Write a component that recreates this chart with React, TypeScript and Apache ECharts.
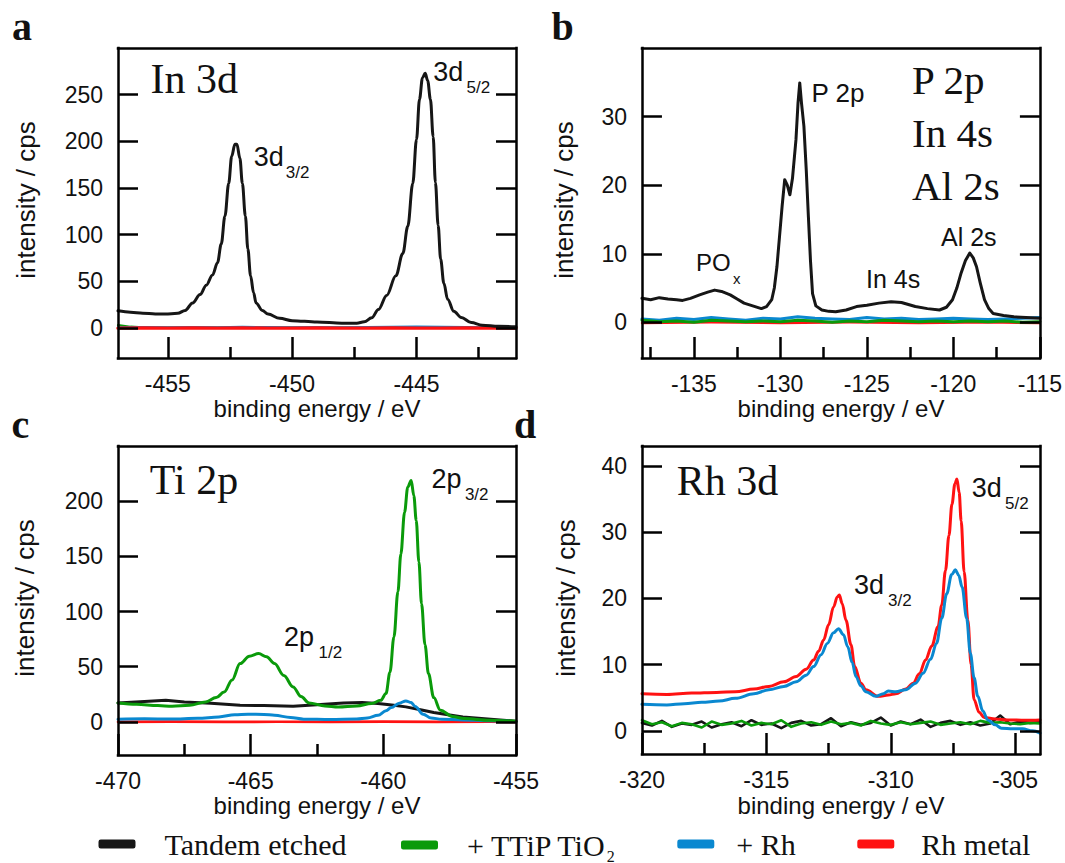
import React, { useEffect, useRef } from "react";
import * as echarts from "echarts";

type Pt = [number, number];

// ---------------- shared ----------------
const legendNames = ["Tandem etched", "+ TTiP TiO2", "+ Rh", "Rh metal"];
const seriesColors = ["#161616", "#0a9a0a", "#0a88d0", "#ff1212"];
const xTitle = "binding energy / eV";
const yTitle = "intensity / cps";

// ---------------- panel a : In 3d ----------------
const aXMajor = [-455, -450, -445];
const aXMinor = [-452.5, -447.5, -442.5];
const aYTicks = [0, 50, 100, 150, 200, 250];
const aTandem: Pt[] = [
  [-457, 18.5], [-456.5, 17], [-456, 16], [-455.5, 15.2], [-455.1, 15], [-454.6, 15.8], [-454.3, 19],
  [-454.0, 27], [-453.7, 36], [-453.45, 46], [-453.2, 57], [-453.0, 70], [-452.85, 90], [-452.7, 120],
  [-452.55, 155], [-452.43, 184], [-452.3, 197], [-452.22, 197], [-452.1, 182], [-452.0, 155],
  [-451.88, 120], [-451.78, 85], [-451.67, 56], [-451.55, 38], [-451.45, 27], [-451.2, 19], [-450.97, 15],
  [-450.5, 10.5], [-450.0, 8], [-449.0, 6.5], [-448.0, 5.3], [-447.4, 5.2], [-447.1, 6.7], [-446.8, 11],
  [-446.53, 20], [-446.2, 35], [-445.83, 56], [-445.55, 80], [-445.35, 109], [-445.15, 155], [-445.0, 202],
  [-444.88, 245], [-444.76, 268], [-444.65, 273], [-444.55, 265], [-444.44, 245], [-444.33, 205],
  [-444.24, 156], [-444.13, 110], [-444.03, 74], [-443.9, 48], [-443.75, 31], [-443.5, 18], [-443.2, 11.4],
  [-442.8, 6], [-442.36, 3.2], [-441.7, 2], [-441, 1.4],
];
const aTTiP: Pt[] = [
  [-457, 3.2], [-456.5, 1.5], [-456, 0.8], [-455, 0.6], [-454, 0.5], [-453, 0.6], [-452, 0.7], [-451, 0.5],
  [-450, 0.5], [-449, 0.4], [-448, 0.5], [-447, 0.4], [-446, 0.5], [-445, 0.6], [-444, 0.5], [-443, 0.4],
  [-442, 0.4], [-441, 0.3],
];
const aRh: Pt[] = [
  [-457, 0.9], [-456, 1.1], [-455, 0.8], [-454, 1.2], [-453, 0.9], [-452, 1.3], [-451, 1.0], [-450, 0.8],
  [-449, 1.1], [-448, 0.9], [-447, 1.2], [-446, 1.4], [-445, 1.5], [-444, 1.3], [-443, 1.0], [-442, 0.8],
  [-441, 0.6],
];
const aRhMetal: Pt[] = [
  [-457, 0], [-456, 0.1], [-455, 0], [-454, 0.1], [-453, 0], [-452, 0.1], [-451, 0], [-450, 0], [-449, 0.1],
  [-448, 0], [-447, 0], [-446, 0.1], [-445, 0], [-444, 0], [-443, 0.1], [-442, 0], [-441, 0],
];

// ---------------- panel b : P 2p / In 4s / Al 2s ----------------
const bXMajor = [-135, -130, -125, -120, -115];
const bXMinor = [-137.5, -132.5, -127.5, -122.5, -117.5];
const bYTicks = [0, 10, 20, 30];
const bTandem: Pt[] = [
  [-138, 3.5], [-137.5, 3.3], [-137, 3.6], [-136.5, 3.4], [-136, 3.3], [-135.65, 3.2], [-135.2, 3.5],
  [-134.67, 4.0], [-134.2, 4.4], [-133.8, 4.7], [-133.4, 4.5], [-132.9, 4.0], [-132.5, 3.4], [-132.1, 2.8],
  [-131.6, 2.4], [-131.1, 2.0], [-130.8, 2.3], [-130.5, 3.3], [-130.35, 5], [-130.2, 8.1], [-130.05, 12.5],
  [-129.9, 16.9], [-129.75, 20.8], [-129.6, 20], [-129.45, 18.6], [-129.3, 21], [-129.1, 26.6], [-128.98, 32],
  [-128.88, 34.9], [-128.78, 32], [-128.64, 28.6], [-128.5, 22], [-128.38, 15.4], [-128.26, 9], [-128.14, 4.2],
  [-127.95, 2.4], [-127.6, 1.8], [-127.2, 1.6], [-126.8, 1.55], [-126.2, 1.8], [-125.6, 2.3], [-125, 2.5],
  [-124.3, 2.8], [-123.6, 3.0], [-123, 2.9], [-122.6, 2.6], [-122.2, 2.3], [-121.5, 2.0], [-120.8, 1.8],
  [-120.4, 2.2], [-120.05, 3.3], [-119.8, 5.0], [-119.55, 7.2], [-119.3, 9.0], [-119.05, 10.1], [-118.85, 9.4],
  [-118.66, 8.1], [-118.45, 5.8], [-118.2, 3.3], [-117.95, 2.0], [-117.7, 1.3], [-117.1, 1.0], [-116.5, 0.8],
  [-115.8, 0.7], [-115, 0.6],
];
const bTTiP: Pt[] = [
  [-138, 0.3], [-137, 0.1], [-136, 0.2], [-135, 0.0], [-134, 0.3], [-133, 0.2], [-132, 0.1], [-131, 0.2],
  [-130, 0.1], [-129, 0.3], [-128, 0.2], [-127, 0.0], [-126, 0.2], [-125, 0.1], [-124, 0.3], [-123, 0.2],
  [-122, 0.1], [-121, 0.2], [-120, 0.1], [-119, 0.2], [-118, 0.1], [-117, 0.2], [-116, 0.0], [-115, 0.1],
];
const bRh: Pt[] = [
  [-138, 0.5], [-137, 0.3], [-136, 0.6], [-135, 0.4], [-134, 0.7], [-133, 0.5], [-132, 0.3], [-131, 0.6],
  [-130, 0.5], [-129, 0.8], [-128, 0.6], [-127, 0.5], [-126, 0.4], [-125, 0.7], [-124, 0.5], [-123, 0.6],
  [-122, 0.4], [-121, 0.5], [-120, 0.6], [-119, 0.5], [-118, 0.4], [-117, 0.5], [-116, 0.6], [-115, 0.7],
];
const bRhMetal: Pt[] = [
  [-138, -0.1], [-134, 0], [-130, -0.1], [-126, 0], [-122, -0.1], [-118, 0], [-115, -0.1],
];

// ---------------- panel c : Ti 2p ----------------
const cXMajor = [-470, -465, -460, -455];
const cXMinor = [-467.5, -462.5, -457.5];
const cYTicks = [0, 50, 100, 150, 200];
const cTandem: Pt[] = [
  [-470, 17.2], [-469, 18.5], [-468.2, 19.6], [-467.5, 18], [-466.5, 17], [-465.4, 15], [-464.5, 14.8],
  [-463.4, 14.2], [-462.5, 15.5], [-461.5, 17.2], [-460.8, 17.5], [-460.2, 16.6], [-459.6, 15], [-459.15, 13.6],
  [-458.6, 11], [-458.1, 8.5], [-457.5, 6.2], [-457, 4.5], [-456.3, 3], [-455.6, 1.8], [-455, 0.5],
];
const cTTiP: Pt[] = [
  [-470, 17.2], [-469.3, 16], [-468.5, 14.8], [-467.96, 14.2], [-467.3, 15], [-466.7, 18], [-466.3, 22],
  [-466.0, 27], [-465.7, 38], [-465.4, 52.8], [-465.05, 59.5], [-464.7, 61.9], [-464.4, 59], [-464.1, 52.8],
  [-463.75, 42], [-463.4, 31.7], [-463.1, 23], [-462.8, 17.2], [-462.2, 14.5], [-461.7, 13.6], [-461, 14.5],
  [-460.45, 16.6], [-460.1, 19.5], [-459.9, 25.7], [-459.75, 45], [-459.6, 77], [-459.45, 118], [-459.34, 152],
  [-459.2, 190], [-459.08, 212.7], [-458.95, 218.7], [-458.85, 205], [-458.76, 182.5], [-458.66, 145],
  [-458.56, 107], [-458.43, 70], [-458.3, 43.8], [-458.1, 22], [-457.85, 10.6], [-457.4, 5], [-456.95, 3],
  [-456, 1.5], [-455, 0.5],
];
const cRh: Pt[] = [
  [-470, 2.4], [-469, 2.8], [-468, 2.6], [-467, 3.2], [-466.2, 4.5], [-465.6, 6.5], [-465.1, 7], [-464.5, 6.8],
  [-464.1, 6], [-463.5, 4], [-463.0, 2.5], [-462, 2.2], [-461, 2.6], [-460.6, 3.5], [-460.2, 6], [-459.9, 10],
  [-459.7, 13], [-459.4, 17], [-459.15, 19], [-458.95, 17.5], [-458.8, 14], [-458.5, 7], [-458.2, 3.5],
  [-457.8, 2.4], [-457, 1.8], [-456, 1], [-455, 0.3],
];
const cRhMetal: Pt[] = [
  [-470, 0], [-468, 0.2], [-466, 0], [-464, 0.1], [-462, 0], [-460, 0.2], [-458, 0], [-456, 0.1], [-455, 0],
];

// ---------------- panel d : Rh 3d ----------------
const dXMajor = [-320, -315, -310, -305];
const dXMinor = [-317.5, -312.5, -307.5];
const dYTicks = [0, 10, 20, 30, 40];
const dBaseEnergy = [
  -320, -319.6, -319.2, -318.8, -318.4, -318, -317.6, -317.2, -316.8, -316.4, -316, -315.6, -315.2, -314.8,
  -314.4, -314, -313.6, -313.2, -312.8, -312.4, -312, -311.6, -311.2, -310.8, -310.4, -310, -309.6, -309.2,
  -308.8, -308.4, -308, -307.6, -307.2, -306.8, -306.4, -306, -305.6, -305.2, -304.8, -304.4, -304,
];
const dTandemValues = [
  1.2, 0.8, 1.5, 0.6, 1.1, 0.9, 1.4, 0.5, 1.0, 1.3, 0.7, 1.6, 0.9, 1.1, 0.4, 1.2, 1.5, 0.8, 1.0, 1.9, 0.7,
  1.3, 0.9, 1.2, 2.0, 0.8, 1.4, 1.0, 1.7, 0.6, 1.2, 1.5, 0.9, 1.3, 0.8, 1.1, 2.3, 1.0, 1.4, 1.2, 1.3,
];
const dTTiPValues = [
  1.6, 1.0, 1.3, 0.7, 1.2, 1.0, 0.5, 1.4, 0.9, 1.1, 1.5, 0.8, 1.2, 1.0, 1.6, 0.6, 1.1, 1.3, 0.9, 1.4, 1.0,
  1.2, 0.8, 1.5, 1.1, 0.9, 1.3, 1.0, 1.2, 1.4, 0.9, 1.1, 1.3, 1.0, 1.5, 1.2, 1.3, 1.1, 1.0, 1.2, 1.1,
];
const dRh: Pt[] = [
  [-320, 4.0], [-319, 3.9], [-318.3, 4.1], [-317.6, 4.3], [-316.9, 4.5], [-316.25, 4.9], [-315.5, 5.6],
  [-314.9, 6.2], [-314.3, 6.7], [-313.8, 7.4], [-313.4, 8.4], [-313.1, 9.7], [-312.8, 11.5], [-312.55, 13.2],
  [-312.3, 14.8], [-312.1, 15.4], [-311.9, 14.5], [-311.73, 12.7], [-311.55, 10.3], [-311.4, 8.2], [-311.2, 6.8],
  [-311.0, 5.9], [-310.6, 5.2], [-310.3, 5.6], [-310.1, 6.0], [-309.8, 5.9], [-309.4, 6.2], [-309.0, 7.2],
  [-308.7, 8.7], [-308.4, 10.8], [-308.16, 13.2], [-307.95, 17], [-307.75, 20.7], [-307.55, 23.6], [-307.4, 24.3],
  [-307.27, 23.5], [-307.13, 21.7], [-306.95, 17], [-306.8, 11.7], [-306.65, 8], [-306.5, 5.2], [-306.3, 3.0],
  [-306.1, 1.65], [-305.8, 0.9], [-305.55, 0.4], [-305.1, 0.3], [-304.7, 0.3], [-304.3, 0], [-304, -0.35],
];
const dRhMetal: Pt[] = [
  [-320, 5.6], [-319, 5.5], [-318, 5.7], [-317, 5.8], [-316.25, 5.9], [-315.5, 6.3], [-314.9, 6.7], [-314.3, 7.4],
  [-313.8, 8.2], [-313.4, 9.3], [-313.1, 10.7], [-312.9, 12], [-312.7, 13.7], [-312.5, 16], [-312.3, 18.7],
  [-312.15, 20.2], [-312.07, 20.5], [-311.95, 19.2], [-311.8, 16.7], [-311.6, 13], [-311.45, 9.7], [-311.2, 7.2],
  [-311.0, 6.2], [-310.5, 5.2], [-310.1, 5.4], [-309.8, 5.6], [-309.4, 6.3], [-309.1, 7.2], [-308.85, 8.6],
  [-308.6, 10.7], [-308.35, 12.8], [-308.1, 15.7], [-307.95, 19], [-307.8, 24.2], [-307.66, 29.5], [-307.54, 34.2],
  [-307.42, 37.3], [-307.34, 38], [-307.25, 36], [-307.17, 31.7], [-307.05, 24], [-306.9, 16.7], [-306.77, 10],
  [-306.65, 4.7], [-306.45, 2.8], [-306.24, 2.0], [-305.8, 1.8], [-305.3, 1.65], [-304.6, 1.6], [-304, 1.65],
];

// ---------------- layout / styling ----------------
const SANS = "Liberation Sans";
const SERIF = "Liberation Serif";
const INK = "#111";
const LW = 2.5; // frame / tick thickness
const MAJOR_X_PX = 21;
const MINOR_X_PX = 11;
const Y_TICK_PX = 20;

interface PanelDef {
  box: [number, number, number, number];
  x: [number, number];
  y: [number, number];
  xMajor: number[];
  xMinor: number[];
  yTicks: number[];
  lines: { k: number; data: Pt[]; smooth: boolean; width: number }[];
}

function App() {
  const ref = useRef<HTMLDivElement>(null);

  useEffect(() => {
    if (!ref.current) return;
    const chart = echarts.init(ref.current, null, { renderer: "svg" });

    const dTandem: Pt[] = dBaseEnergy.map((e, i) => [e, dTandemValues[i]]);
    const dTTiP: Pt[] = dBaseEnergy.map((e, i) => [e, dTTiPValues[i]]);

    const panels: PanelDef[] = [
      {
        box: [118, 48, 398, 310], x: [-457, -441], y: [-32, 300], xMajor: aXMajor, xMinor: aXMinor,
        yTicks: aYTicks,
        lines: [
          { k: 1, data: aTTiP, smooth: false, width: 2.2 },
          { k: 2, data: aRh, smooth: false, width: 2.2 },
          { k: 3, data: aRhMetal, smooth: false, width: 3.4 },
          { k: 0, data: aTandem, smooth: true, width: 3 },
        ],
      },
      {
        box: [642, 48, 399, 310], x: [-138, -115], y: [-5.2, 40], xMajor: bXMajor, xMinor: bXMinor,
        yTicks: bYTicks,
        lines: [
          { k: 3, data: bRhMetal, smooth: false, width: 2.4 },
          { k: 2, data: bRh, smooth: false, width: 3 },
          { k: 1, data: bTTiP, smooth: false, width: 3 },
          { k: 0, data: bTandem, smooth: false, width: 3 },
        ],
      },
      {
        box: [118, 446, 398, 309], x: [-470, -455], y: [-30, 250], xMajor: cXMajor, xMinor: cXMinor,
        yTicks: cYTicks,
        lines: [
          { k: 3, data: cRhMetal, smooth: false, width: 2.6 },
          { k: 0, data: cTandem, smooth: false, width: 3 },
          { k: 2, data: cRh, smooth: true, width: 3 },
          { k: 1, data: cTTiP, smooth: true, width: 3 },
        ],
      },
      {
        box: [642, 446, 398, 308], x: [-320, -304], y: [-3.5, 43], xMajor: dXMajor, xMinor: dXMinor,
        yTicks: dYTicks,
        lines: [
          { k: 0, data: dTandem, smooth: false, width: 2.6 },
          { k: 1, data: dTTiP, smooth: false, width: 2.6 },
          { k: 3, data: dRhMetal, smooth: true, width: 3 },
          { k: 2, data: dRh, smooth: true, width: 3 },
        ],
      },
    ];

    const grid: any[] = [];
    const xAxis: any[] = [];
    const yAxis: any[] = [];
    const series: any[] = [];

    panels.forEach((p, i) => {
      grid.push({ left: p.box[0], top: p.box[1], width: p.box[2], height: p.box[3], show: false });
      xAxis.push({
        type: "value", gridIndex: i, min: p.x[0], max: p.x[1],
        axisLine: { show: false }, axisTick: { show: false }, splitLine: { show: false },
        axisLabel: {
          show: true, customValues: p.xMajor, showMinLabel: true, showMaxLabel: true, margin: 14,
          fontFamily: SANS, fontSize: 23, color: INK,
        },
      });
      yAxis.push({
        type: "value", gridIndex: i, min: p.y[0], max: p.y[1],
        axisLine: { show: false }, axisTick: { show: false }, splitLine: { show: false },
        axisLabel: { show: true, customValues: p.yTicks, margin: 15, fontFamily: SANS, fontSize: 23, color: INK },
      });
      p.lines.forEach((l) => {
        series.push({
          type: "line", name: legendNames[l.k], xAxisIndex: i, yAxisIndex: i,
          data: l.data, showSymbol: false, symbol: "none", smooth: l.smooth ? 0.35 : false,
          smoothMonotone: "x", silent: true,
          lineStyle: { color: seriesColors[l.k], width: l.width, join: "round", cap: "round" },
          itemStyle: { color: seriesColors[l.k] },
        });
      });

      // frame + inward ticks as segments in data space, drawn through the panel's own axes
      const [x0, x1] = p.x;
      const [y0, y1] = p.y;
      const dyPerPx = (y1 - y0) / p.box[3];
      const dxPerPx = (x1 - x0) / p.box[2];
      const seg = (a: Pt, b: Pt) => ({ coords: [a, b] });
      const frameSegs = [
        seg([x0, y0], [x1, y0]),
        seg([x0, y1], [x1, y1]),
        seg([x0, y0], [x0, y1]),
        seg([x1, y0], [x1, y1]),
      ];
      const tickSegs = [
        ...p.xMajor.map((v) => seg([v, y0], [v, y0 + MAJOR_X_PX * dyPerPx])),
        ...p.xMinor.map((v) => seg([v, y0], [v, y0 + MINOR_X_PX * dyPerPx])),
        ...p.yTicks.map((v) => seg([x0, v], [x0 + Y_TICK_PX * dxPerPx, v])),
        ...p.yTicks.map((v) => seg([x1, v], [x1 - Y_TICK_PX * dxPerPx, v])),
      ];
      series.push({
        type: "lines", name: "frame " + i, coordinateSystem: "cartesian2d", xAxisIndex: i, yAxisIndex: i,
        polyline: false, silent: true, clip: false, z: 5, effect: { show: false },
        lineStyle: { color: "#000", width: LW, opacity: 1, curveness: 0, cap: "square" },
        data: frameSegs,
      });
      series.push({
        type: "lines", name: "ticks " + i, coordinateSystem: "cartesian2d", xAxisIndex: i, yAxisIndex: i,
        polyline: false, silent: true, clip: false, z: 5, effect: { show: false },
        lineStyle: { color: "#000", width: LW, opacity: 1, curveness: 0, cap: "butt" },
        data: tickSegs,
      });
    });

    const txt = (x: number, y: number, text: string, size: number, family: string, bold = false) => ({
      type: "text", x, y, silent: true,
      style: {
        text, fontSize: size, fontFamily: family, fontWeight: bold ? "bold" : "normal",
        fill: INK, align: "left", verticalAlign: "middle",
      },
    });
    const xName = (cx: number, cy: number) => ({
      type: "text", x: cx, y: cy, silent: true,
      style: { text: xTitle, fontSize: 24, fontFamily: SANS, fill: INK, align: "center", verticalAlign: "middle" },
    });
    const yName = (cx: number, cy: number) => ({
      type: "text", x: cx, y: cy, rotation: Math.PI / 2, silent: true,
      style: { text: yTitle, fontSize: 26, fontFamily: SANS, fill: INK, align: "center", verticalAlign: "middle" },
    });

    const texts: any[] = [
      // panel letters
      txt(12, 26.5, "a", 40, SERIF, true),
      txt(551.5, 26.5, "b", 40, SERIF, true),
      txt(11.5, 424.5, "c", 40, SERIF, true),
      txt(514, 424.5, "d", 40, SERIF, true),
      // axis titles
      xName(317, 408), xName(841, 408), xName(317, 805), xName(841, 805),
      yName(26, 200), yName(564, 200), yName(25, 598), yName(566, 598),
      // panel a
      txt(150.5, 79, "In 3d", 42, SERIF),
      txt(253.8, 156.7, "3d", 27, SANS), txt(285.8, 172.5, "3/2", 17, SANS),
      txt(433.2, 71.7, "3d", 27, SANS), txt(466.6, 87, "5/2", 17, SANS),
      // panel b
      txt(912, 80, "P 2p", 41, SERIF),
      txt(912, 133, "In 4s", 41, SERIF),
      txt(912, 186, "Al 2s", 41, SERIF),
      txt(811.5, 93, "P 2p", 26, SANS),
      txt(696, 262.5, "PO", 24, SANS), txt(733, 278, "x", 15, SANS),
      txt(866, 278.5, "In 4s", 25, SANS),
      txt(941, 236.5, "Al 2s", 25, SANS),
      // panel c
      txt(149.8, 480, "Ti 2p", 42, SERIF),
      txt(431.5, 479, "2p", 27, SANS), txt(464.9, 494, "3/2", 17, SANS),
      txt(284, 637, "2p", 27, SANS), txt(318.5, 652, "1/2", 17, SANS),
      // panel d
      txt(676.7, 481, "Rh 3d", 42, SERIF),
      txt(971.8, 487.5, "3d", 27, SANS), txt(1005, 503, "5/2", 17, SANS),
      txt(854, 585, "3d", 27, SANS), txt(888, 600, "3/2", 17, SANS),
    ];

    const legendBase = {
      orient: "horizontal", padding: 0, itemGap: 0, itemWidth: 37, itemHeight: 9, icon: "roundRect",
      selectedMode: false,
    };
    const legend: any[] = [
      { ...legendBase, data: [legendNames[0]], left: 98.5, top: 829,
        textStyle: { fontFamily: SERIF, fontSize: 30, color: INK, padding: [0, 0, 7, 24] } },
      { ...legendBase, data: [legendNames[1]], left: 401, top: 830,
        formatter: () => "{t|+ TTiP TiO}{s|2}",
        textStyle: {
          fontFamily: SERIF, fontSize: 30, color: INK, padding: [0, 0, 0, 24],
          rich: {
            t: { fontFamily: SERIF, fontSize: 30, color: INK, verticalAlign: "top", lineHeight: 30 },
            s: { fontFamily: SERIF, fontSize: 16, color: INK, verticalAlign: "top", lineHeight: 16, padding: [18, 0, 0, 0] },
          },
        } },
      { ...legendBase, data: [legendNames[2]], left: 677.3, top: 829,
        textStyle: { fontFamily: SERIF, fontSize: 30, color: INK, padding: [0, 0, 7, 17] } },
      { ...legendBase, data: [legendNames[3]], left: 857.3, top: 829,
        textStyle: { fontFamily: SERIF, fontSize: 30, color: INK, padding: [0, 0, 7, 22] } },
    ];

    chart.setOption({
      animation: false,
      grid, xAxis, yAxis, series, legend,
      graphic: texts,
    });

    return () => chart.dispose();
  }, []);

  return (
    <div
      ref={ref}
      style={{ position: "absolute", left: 0, top: 0, width: 1065, height: 863 }}
    />
  );
}

export default App;
